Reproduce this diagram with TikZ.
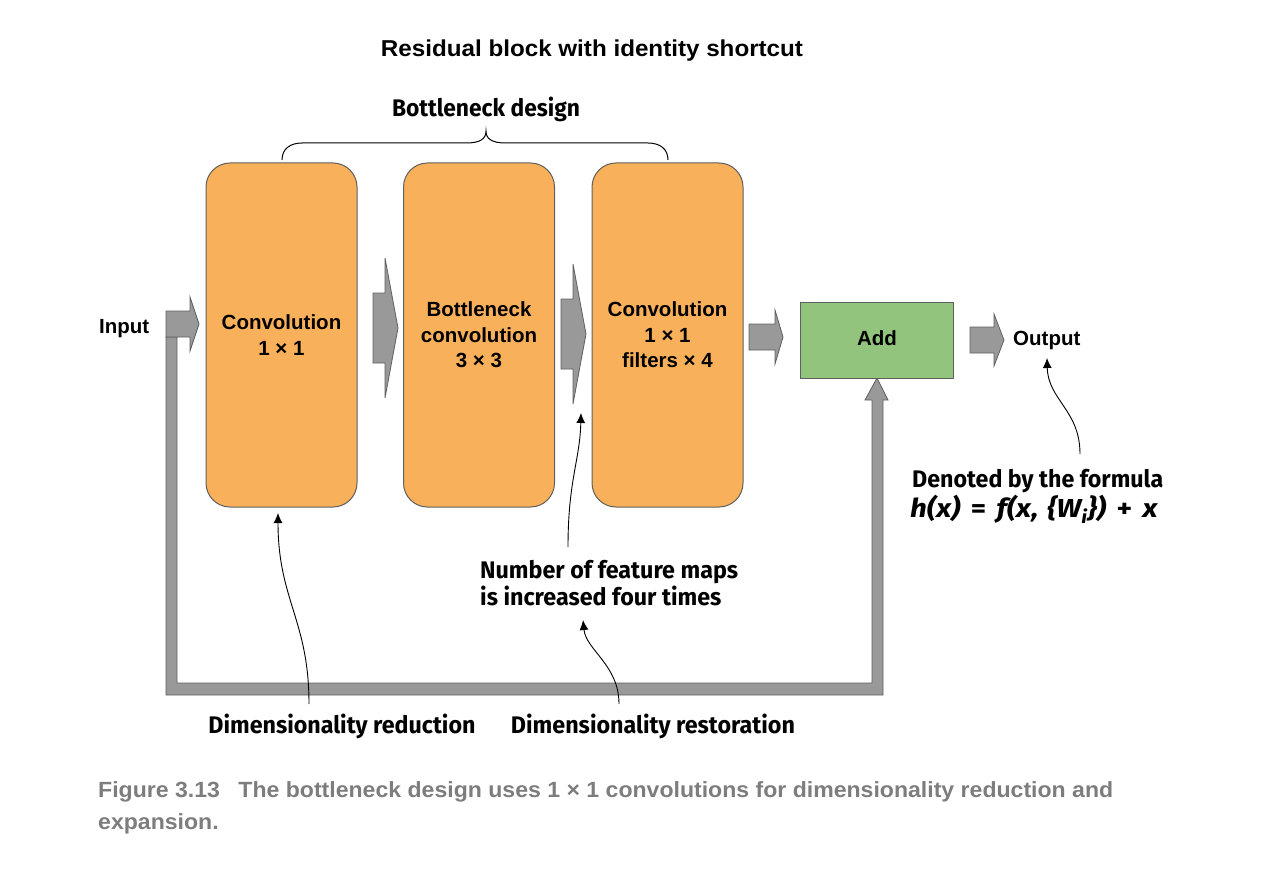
\documentclass[tikz,border=0pt]{standalone}
\usepackage{fontspec}
\setmainfont{Liberation Sans}
\newfontfamily\annfont{Fira Sans}
\usetikzlibrary{arrows.meta}
\definecolor{boxorange}{RGB}{249,176,90}
\definecolor{boxgreen}{RGB}{147,196,125}
\definecolor{arrfill}{RGB}{153,153,153}
\definecolor{arrline}{RGB}{95,95,95}
\definecolor{capgray}{RGB}{125,125,125}
\newcommand\fitw[2]{\resizebox{#1}{\height}{#2}}
\newcommand\blockarrow[6]{%
  \draw[blockarr] (#1,#4-#5) -- (#2,#4-#5) -- (#2,#4-#6) -- (#3,#4) -- (#2,#4+#6) -- (#2,#4+#5) -- (#1,#4+#5) -- cycle;}
\begin{document}
\begin{tikzpicture}[x=1pt,y=-1pt,
  convbox/.style={draw=arrline, line width=1pt, fill=boxorange, rounded corners=24pt,
    minimum width=151pt, minimum height=344pt, inner sep=0pt, align=center,
    font=\bfseries\fontsize{20.5}{25.5}\selectfont},
  addbox/.style={draw=arrline, line width=1pt, fill=boxgreen,
    minimum width=153pt, minimum height=76pt, inner sep=0pt},
  blockarr/.style={draw=arrline, line width=0.8pt, fill=arrfill, line join=miter},
  lbl/.style={inner sep=0pt, font=\bfseries\fontsize{20.5}{25.5}\selectfont},
  ann/.style={inner sep=0pt, font=\annfont\bfseries\fontsize{24}{28}\selectfont},
  annarrow/.style={line width=0.9pt, -{Latex[length=10pt,width=9pt]}},
  capt/.style={inner sep=0pt, text=capgray, font=\bfseries\fontsize{22}{32}\selectfont}
]
\useasboundingbox (0,0) rectangle (1285,869);

% title
\node[lbl, anchor=base, font=\bfseries\fontsize{23}{28}\selectfont] (title) at (592,57)
  {\fitw{422pt}{Residual block with identity shortcut}};
\node[ann, anchor=base] (bdesign) at (486,117) {\fitw{188pt}{Bottleneck design}};

% brace
\draw[line width=1pt] (282,160) .. controls (282,149) and (290,143) .. (302,143)
  -- (466,143) .. controls (480,143) and (486,139) .. (486,131)
  .. controls (486,139) and (492,143) .. (506,143)
  -- (648,143) .. controls (660,143) and (668,149) .. (668,160);

% shortcut path
\draw[blockarr] (166,337) -- (166,695) -- (883,695) -- (883,400) -- (888,400) -- (877,378)
  -- (865,400) -- (872,400) -- (872,683) -- (177,683) -- (177,337) -- cycle;

% block arrows
\blockarrow{166}{190}{199}{324}{13}{27}
\blockarrow{373}{385}{398}{328}{35}{70}
\blockarrow{561}{573}{586}{334}{35}{70}
\blockarrow{749}{775}{783}{337}{13}{27}
\blockarrow{970}{994}{1004}{340}{13}{26}

% boxes
\node[convbox] (conv1) at (281.5,335) {Convolution\\1 × 1};
\node[convbox] (conv2) at (479,335) {Bottleneck\\convolution\\3 × 3};
\node[convbox] (conv3) at (667.5,335) {Convolution\\1 × 1\\filters × 4};
\node[addbox] (add) at (876.5,340) {};
\node[lbl, anchor=base] (addtxt) at (877,345) {Add};

% input / output
\node[lbl, anchor=base west] (input) at (99,333) {Input};
\node[lbl, anchor=base west] (output) at (1013,345) {Output};

% annotations
\node[ann, anchor=base] (dimred) at (342,733) {\fitw{267pt}{Dimensionality reduction}};
\node[ann, anchor=base] (dimres) at (653,733) {\fitw{284pt}{Dimensionality restoration}};
\node[ann, anchor=base west, font=\annfont\bfseries\fontsize{24}{27}\selectfont] (featmaps) at (480,578)
  {\fitw{258pt}{\begin{tabular}[t]{@{}l@{}}Number of feature maps\\is increased four times\end{tabular}}};
\node[ann, anchor=base west] (formula1) at (912,487)
  {\fitw{251pt}{Denoted by the formula}};
\node[ann, anchor=base west, font=\annfont\bfseries\fontsize{26}{30}\selectfont] (formula2) at (910,517)
  {\fitw{248pt}{\textit{h(x)}\hspace{0.35em}=\hspace{0.35em}\textit{f(x,\hspace{0.3em}\{W\textsubscript{i}\})}\hspace{0.35em}+\hspace{0.35em}\textit{x}}};

% annotation connectors
\coordinate (redFoot) at (309,704);
\coordinate (redTip) at (278,513);
\coordinate (resFoot) at (619,704);
\coordinate (resTip) at (583,620);
\coordinate (fmFoot) at (568,547);
\coordinate (fmTip) at (581,413);
\coordinate (fFoot) at (1080,454);
\coordinate (fTip) at (1047,358);
\draw[annarrow] (redFoot) .. controls (309,620) and (278,600) .. (redTip);
\draw[annarrow] (resFoot) .. controls (619,665) and (586,650) .. (resTip);
\draw[annarrow] (fmFoot) .. controls (568,480) and (580,460) .. (fmTip);
\draw[annarrow] (fFoot) .. controls (1080,410) and (1048,400) .. (fTip);

% caption
\node[capt, anchor=base west] (caption) at (98,797)
  {\fitw{1015pt}{\begin{tabular}[t]{@{}l@{}}Figure 3.13\hspace{0.8em}The bottleneck design uses 1 × 1 convolutions for dimensionality reduction and\\expansion.\end{tabular}}};
\end{tikzpicture}
\end{document}
